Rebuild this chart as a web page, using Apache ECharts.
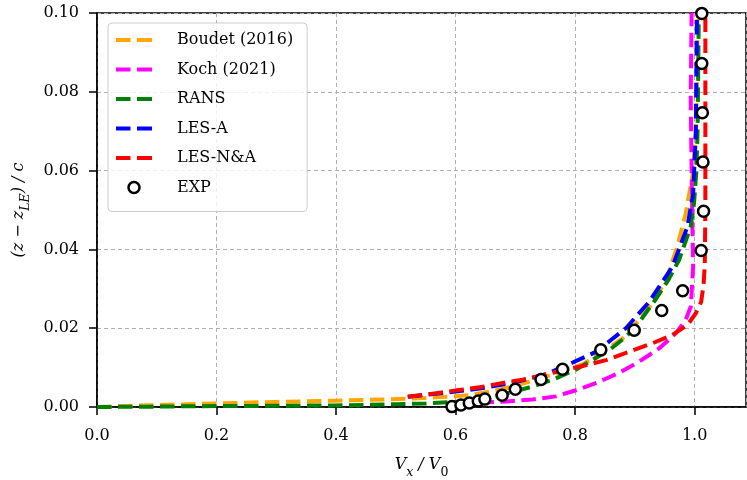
<!DOCTYPE html>
<html>
<head>
<meta charset="utf-8">
<script src="https://cdn.jsdelivr.net/npm/echarts@6/dist/echarts.min.js"></script>
<style>
html,body{margin:0;padding:0;background:#fff;}
#chart{width:747px;height:480px;}
</style>
</head>
<body>
<div id="chart"></div>
<script>
// ---- data (x = Vx/V0, y = (z - zLE)/c) ----
var boudet = [[0,0],[0.1,0.0005],[0.2,0.0009],[0.3,0.0013],[0.4,0.0016],[0.5,0.002],[0.55,0.0023],[0.6,0.0027],[0.623,0.003],[0.657,0.0039],[0.69,0.005],[0.723,0.0064],[0.768,0.0085],[0.8125,0.0108],[0.85,0.0143],[0.88,0.0175],[0.907,0.022],[0.93,0.0265],[0.952,0.0322],[0.971,0.0407],[0.985,0.049],[0.9975,0.0597],[1.002,0.07],[1.004,0.085],[1.005,0.1]];
var koch = [[0.64,0.0011],[0.685,0.0014],[0.729,0.0019],[0.768,0.0027],[0.785,0.0035],[0.807,0.0045],[0.84,0.0064],[0.874,0.0087],[0.907,0.0115],[0.941,0.0149],[0.9686,0.0187],[0.985,0.0221],[0.9937,0.0255],[0.9975,0.0356],[0.9965,0.044],[0.995,0.06],[0.9935,0.078],[0.995,0.1]];
var rans = [[0,0],[0.1,0.0001],[0.2,0.00025],[0.3,0.0003],[0.4,0.0004],[0.5,0.0007],[0.55,0.0009],[0.6,0.0013],[0.66,0.0025],[0.7,0.004],[0.729,0.0052],[0.762,0.0069],[0.8,0.0094],[0.829,0.0119],[0.86,0.0148],[0.885,0.0178],[0.905,0.021],[0.918,0.0238],[0.932,0.0267],[0.955,0.032],[0.974,0.0373],[0.9935,0.0458],[0.999,0.0517],[1.003,0.06],[1.005,0.07],[1.006,0.085],[1.007,0.1]];
var lesA = [[0.52,0.0026],[0.6,0.0039],[0.65,0.0049],[0.7,0.0063],[0.751,0.0083],[0.796,0.0113],[0.835,0.014],[0.86,0.017],[0.885,0.02],[0.924,0.0267],[0.963,0.0356],[0.988,0.0458],[0.9975,0.0542],[1.002,0.0695],[1.003,0.085],[1.004,0.1]];
var lesNA = [[0.52,0.0026],[0.568,0.0035],[0.605,0.0043],[0.64,0.005],[0.675,0.006],[0.712,0.0069],[0.746,0.0081],[0.785,0.0095],[0.8125,0.0104],[0.852,0.0119],[0.89,0.014],[0.93,0.0162],[0.963,0.0183],[0.988,0.0208],[1.002,0.0238],[1.011,0.0267],[1.015,0.031],[1.017,0.036],[1.018,0.05],[1.018,0.07],[1.018,0.1]];
var exp = [[0.594,0.0001],[0.609,0.0005],[0.623,0.001],[0.638,0.0015],[0.649,0.002],[0.678,0.003],[0.7,0.0045],[0.743,0.007],[0.779,0.0096],[0.843,0.0145],[0.899,0.0195],[0.945,0.0245],[0.98,0.0295],[1.011,0.0397],[1.015,0.0497],[1.014,0.0622],[1.013,0.0747],[1.012,0.0872],[1.012,0.0999]];
var seriesNames = ['Boudet (2016)','Koch (2021)','RANS','LES-A','LES-N&A','EXP'];
var seriesColors = ['#FFA500','#FF00FF','#008000','#0000FF','#FF0000','#000000'];
var xTicks = {min:0, max:1.086, interval:0.2};
var yTicks = {min:0, max:0.1, interval:0.02};

var FONT = 'DejaVu Serif';
var DASH_ICON = 'path://M0,0h14.5v4h-14.5z M21,0h15v4h-15z';
var lineData = [boudet, koch, rans, lesA, lesNA];
var series = lineData.map(function(d,i){
  return {
    name: seriesNames[i], type:'line', data:d, symbol:'none', showSymbol:false, smooth:false,
    lineStyle:{color:seriesColors[i], width:4, type:[14.5,6.5], cap:'butt'},
    itemStyle:{color:seriesColors[i]},
    z: 2+i, animation:false
  };
});
series.push({
  name: seriesNames[5], type:'scatter', data:exp, symbol:'circle', symbolSize:11,
  itemStyle:{color:'#ffffff', borderColor:'#000', borderWidth:2.5, opacity:1},
  z: 10, animation:false
});

var legendData = seriesNames.map(function(n,i){
  if (i < 5) {
    return {name:n, icon:DASH_ICON, itemStyle:{color:seriesColors[i], borderWidth:0}};
  }
  return {name:n, icon:'circle', itemStyle:{color:'#ffffff', borderColor:'#000', borderWidth:2.5}};
});

var chart = echarts.init(document.getElementById('chart'), null, {renderer:'canvas'});
chart.setOption({
  animation:false,
  backgroundColor:'#fff',
  textStyle:{fontFamily:FONT},
  grid:{left:97, top:13, right:1, bottom:73, show:true, borderColor:'#000', borderWidth:1.5,
    backgroundColor:'transparent', containLabel:false, outerBoundsMode:'none'},
  legend:{
    left:108, top:23, orient:'vertical',
    data: legendData,
    itemWidth:36, itemHeight:11, itemGap:9.5,
    symbolKeepAspect:true,
    padding:[7,14,14,8],
    backgroundColor:'rgba(255,255,255,0.8)', borderColor:'#cccccc', borderWidth:1, borderRadius:4,
    textStyle:{fontFamily:FONT, fontSize:16, color:'#000', lineHeight:20, padding:[0,0,0,20]}
  },
  xAxis:{
    type:'value', min:xTicks.min, max:xTicks.max, interval:xTicks.interval,
    name:'{i|V}{s|x}{i| / V}{u|0}', nameLocation:'middle', nameGap:50,
    nameTextStyle:{rich:{
      i:{fontFamily:FONT, fontStyle:'italic', fontSize:16, color:'#000', lineHeight:22, verticalAlign:'top'},
      s:{fontFamily:FONT, fontStyle:'italic', fontSize:12.5, color:'#000', lineHeight:15, verticalAlign:'bottom'},
      u:{fontFamily:FONT, fontSize:12.5, color:'#000', lineHeight:15, verticalAlign:'bottom'}
    }},
    axisLine:{show:true, lineStyle:{color:'#000', width:1.5}},
    axisTick:{show:true, inside:false, length:8, lineStyle:{color:'#000', width:1.5}},
    axisLabel:{fontFamily:FONT, fontSize:16, color:'#000', margin:21, showMaxLabel:false,
      formatter:function(v){return v.toFixed(1);}},
    splitLine:{show:true, lineStyle:{color:'#b0b0b0', width:1, type:[4,3]}}
  },
  yAxis:{
    type:'value', min:yTicks.min, max:yTicks.max, interval:yTicks.interval,
    name:'{i|(z − z}{s|LE}{i|) / c}', nameLocation:'middle', nameGap:64,
    nameTextStyle:{rich:{
      i:{fontFamily:FONT, fontStyle:'italic', fontSize:16, color:'#000', lineHeight:22, verticalAlign:'top'},
      s:{fontFamily:FONT, fontStyle:'italic', fontSize:12.5, color:'#000', lineHeight:15, verticalAlign:'bottom'}
    }},
    axisLine:{show:true, lineStyle:{color:'#000', width:1.5}},
    axisTick:{show:true, inside:false, length:8, lineStyle:{color:'#000', width:1.5}},
    axisLabel:{fontFamily:FONT, fontSize:16, color:'#000', margin:18,
      formatter:function(v){return v.toFixed(2);}},
    splitLine:{show:true, lineStyle:{color:'#b0b0b0', width:1, type:[4,3]}}
  },
  series: series
});
</script>
</body>
</html>
